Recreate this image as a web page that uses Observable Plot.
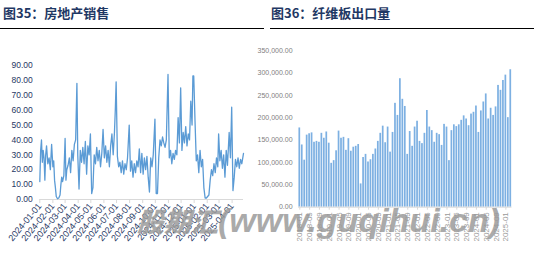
<!DOCTYPE html>
<html><head><meta charset="utf-8">
<script src="https://cdn.jsdelivr.net/npm/d3@7"></script>
<script src="https://cdn.jsdelivr.net/npm/@observablehq/plot@0.6"></script>
<style>
body{margin:0;background:#fff;}
#wrap{position:relative;width:534px;height:253px;overflow:hidden;background:#fff;font-family:"Liberation Sans",Arial,sans-serif;}
.title{position:absolute;top:3px;font:bold 13px "Noto Sans CJK SC",sans-serif;color:#1F3864;white-space:nowrap;}
.rule{position:absolute;top:27.5px;height:1.4px;background:#000;}
#left{position:absolute;left:0;top:30px;}
#right{position:absolute;left:250px;top:30px;}
#wm{position:absolute;left:137px;top:201px;line-height:34px;font:italic bold 34px "Liberation Sans","Noto Sans CJK SC",sans-serif;color:rgba(155,155,155,0.85);white-space:nowrap;pointer-events:none;}
#wm .cjk{font-size:27px;font-family:"Noto Sans CJK SC",sans-serif;font-weight:900;}
</style></head>
<body><div id="wrap">
<div class="title" style="left:3px">图35：房地产销售</div>
<div class="rule" style="left:0;width:264px"></div>
<div class="title" style="left:271px">图36：纤维板出口量</div>
<div class="rule" style="left:270px;width:264px"></div>
<div id="left"></div>
<div id="right"></div>
<div id="wm"><span class="cjk">股期汇</span>(www.guqihui.cn)</div>
</div>
<script>
// ---- 图35 房地产销售 (daily, sampled) ----
const saleDates = [
"2024-01-01","2024-01-03","2024-01-05","2024-01-07","2024-01-09","2024-01-11","2024-01-13","2024-01-15","2024-01-17","2024-01-20","2024-01-23","2024-01-26","2024-01-29",
"2024-02-01","2024-02-03","2024-02-05","2024-02-07","2024-02-09","2024-02-12","2024-02-15","2024-02-18","2024-02-20","2024-02-22","2024-02-24","2024-02-27",
"2024-03-01","2024-03-03","2024-03-05","2024-03-08","2024-03-11","2024-03-14","2024-03-17","2024-03-20","2024-03-23","2024-03-26","2024-03-29","2024-03-31",
"2024-04-03","2024-04-06","2024-04-09","2024-04-12","2024-04-15","2024-04-18","2024-04-21","2024-04-24","2024-04-27","2024-04-30",
"2024-05-03","2024-05-06","2024-05-09","2024-05-12","2024-05-15","2024-05-18","2024-05-21","2024-05-24","2024-05-27","2024-05-30",
"2024-06-02","2024-06-05","2024-06-08","2024-06-11","2024-06-14","2024-06-17","2024-06-20","2024-06-23","2024-06-26","2024-06-28","2024-06-30",
"2024-07-03","2024-07-06","2024-07-09","2024-07-12","2024-07-15","2024-07-18","2024-07-21","2024-07-24","2024-07-27","2024-07-31",
"2024-08-03","2024-08-06","2024-08-09","2024-08-12","2024-08-15","2024-08-18","2024-08-21","2024-08-24","2024-08-27","2024-08-30",
"2024-09-02","2024-09-05","2024-09-08","2024-09-11","2024-09-14","2024-09-17","2024-09-20","2024-09-23","2024-09-26","2024-09-30",
"2024-10-03","2024-10-06","2024-10-09","2024-10-12","2024-10-15","2024-10-18","2024-10-21","2024-10-24","2024-10-27","2024-10-31",
"2024-11-03","2024-11-06","2024-11-09","2024-11-12","2024-11-15","2024-11-18","2024-11-21","2024-11-24","2024-11-27","2024-11-30",
"2024-12-03","2024-12-06","2024-12-09","2024-12-12","2024-12-15","2024-12-18","2024-12-21","2024-12-24","2024-12-27","2024-12-29","2024-12-31",
"2025-01-03","2025-01-06","2025-01-09","2025-01-12","2025-01-15","2025-01-18","2025-01-21","2025-01-24","2025-01-27","2025-01-30",
"2025-02-02","2025-02-05","2025-02-08","2025-02-11","2025-02-14","2025-02-17","2025-02-20","2025-02-23","2025-02-26","2025-02-28",
"2025-03-03","2025-03-06","2025-03-09","2025-03-12","2025-03-15","2025-03-18","2025-03-21","2025-03-25","2025-03-28","2025-03-31",
"2025-04-03","2025-04-06","2025-04-09","2025-04-12","2025-04-15","2025-04-18","2025-04-21","2025-04-24","2025-04-28"
];
const saleValues = [
12,33,40,25,33,28,13,30,36,24,28,20,37,
22,26,13,8,2,0.5,1,3,10,15,12,16,
41,13,20,23,28,18,33,26,37,40,78,30,
7,33,25,35,24,39,17,36,30,44,
4,8,30,24,35,26,33,22,31,47,
28,36,25,33,22,36,44,30,45,60,79,
29,22,25,18,26,17,24,20,28,50,
19,26,15,24,18,26,22,34,18,31,
17,28,20,29,15,5,28,22,30,54,
4,4,28,40,36,42,38,35,40,84,
28,33,24,31,27,33,30,55,38,75,
33,45,38,49,36,44,40,66,50,83,83,
53,26,30,18,33,22,27,8,1,1,
2,3,13,20,16,24,18,28,22,44,
26,33,21,30,15,33,23,45,28,62,
6,15,27,22,28,21,27,24,31
];
const saleTickLabels = ["2024-01-01","2024-02-01","2024-03-01","2024-04-01","2024-05-01","2024-06-01","2024-07-01","2024-08-01","2024-09-01","2024-10-01","2024-11-01","2024-12-01","2025-01-01","2025-02-01","2025-03-01","2025-04-01"];
const saleYTicks = [0,10,20,30,40,50,60,70,80,90];

// ---- 图36 纤维板出口量 (monthly) ----
const exportStart = "2018-01", exportEnd = "2025-03";
const exportValues = [
177000,139000,105000,161000,164000,166000,145000,147000,145000,165000,154000,168000,
143000,98000,104000,126000,170000,154000,156000,127000,153000,125000,134000,136000,
140000,52000,111000,118000,101000,106000,118000,130000,147000,165000,181000,144000,
179000,123000,167000,232000,205000,287000,241000,225000,118000,169000,136000,179000,
192000,147000,142000,165000,216000,179000,171000,145000,165000,162000,138000,185000,
179000,104000,171000,184000,180000,184000,194000,204000,197000,182000,208000,212000,
226000,167000,215000,235000,253000,197000,221000,205000,224000,272000,261000,283000,
295000,200000,307000
];
const exportTickLabels = ["2018-01","2018-05","2018-09","2019-01","2019-05","2019-09","2020-01","2020-05","2020-09","2021-01","2021-05","2021-09","2022-01","2022-05","2022-09","2023-01","2023-05","2023-09","2024-01","2024-05","2024-09","2025-01"];
const exportYTicks = [0,50000,100000,150000,200000,250000,300000,350000];

const parse = s => new Date(s + "T00:00:00Z");
const sales = saleDates.map((d, i) => ({date: parse(d), value: saleValues[i]}));
const fmtM = d3.utcFormat("%Y-%m");
const months = d3.utcMonth.range(parse(exportStart + "-01"), d3.utcMonth.offset(parse(exportEnd + "-01"), 1)).map(fmtM);
const exportsData = months.map((m, i) => ({month: m, value: exportValues[i]}));

const navy = "#1F3864";
const left = Plot.plot({
  width: 265, height: 223,
  marginLeft: 39.3, marginRight: 22, marginTop: 35, marginBottom: 54,
  style: {fontFamily: "'Liberation Sans', Arial, sans-serif", fontSize: "8.5px", background: "transparent", overflow: "visible"},
  x: {type: "utc", domain: [parse("2024-01-01"), parse("2025-04-28")]},
  y: {domain: [0, 90]},
  marks: [
    Plot.ruleY([0], {stroke: "#d9d9d9", strokeWidth: 1.2}),
    Plot.axisY({ticks: saleYTicks, tickFormat: d3.format(".2f"), tickSize: 0, tickPadding: 7, fill: navy, label: null}),
    Plot.axisX({ticks: saleTickLabels.map(parse), tickFormat: d3.utcFormat("%Y-%m-%d"), tickRotate: -50, tickSize: 4, tickPadding: 1, stroke: "#d9d9d9", fill: navy, fontSize: 9, label: null}),
    Plot.line(sales, {x: "date", y: "value", stroke: "#5B9BD5", strokeWidth: 1.3, curve: "linear"})
  ]
});
document.getElementById("left").appendChild(left);

const right = Plot.plot({
  width: 284, height: 223,
  marginLeft: 48.07, marginRight: 22.5, marginTop: 20, marginBottom: 46.3,
  style: {fontFamily: "'Liberation Sans', Arial, sans-serif", fontSize: "7px", background: "transparent", overflow: "visible"},
  x: {type: "band", domain: months, paddingInner: 0.3, paddingOuter: 0.15, round: false},
  y: {domain: [0, 350000]},
  marks: [
    Plot.barY(exportsData, {x: "month", y: "value", fill: "#7DB0E2"}),
    Plot.ruleY([0], {stroke: "#d9d9d9", strokeWidth: 1}),
    Plot.axisY({ticks: exportYTicks, tickFormat: d3.format(",.2f"), tickSize: 0, tickPadding: 6, fill: "#808080", fontSize: 7, label: null}),
    Plot.axisX({ticks: exportTickLabels, tickRotate: -90, tickSize: 3, tickPadding: 2, stroke: "#d9d9d9", fill: "#9a9a9a", fontSize: 8, label: null})
  ]
});
document.getElementById("right").appendChild(right);
</script>
</body></html>
